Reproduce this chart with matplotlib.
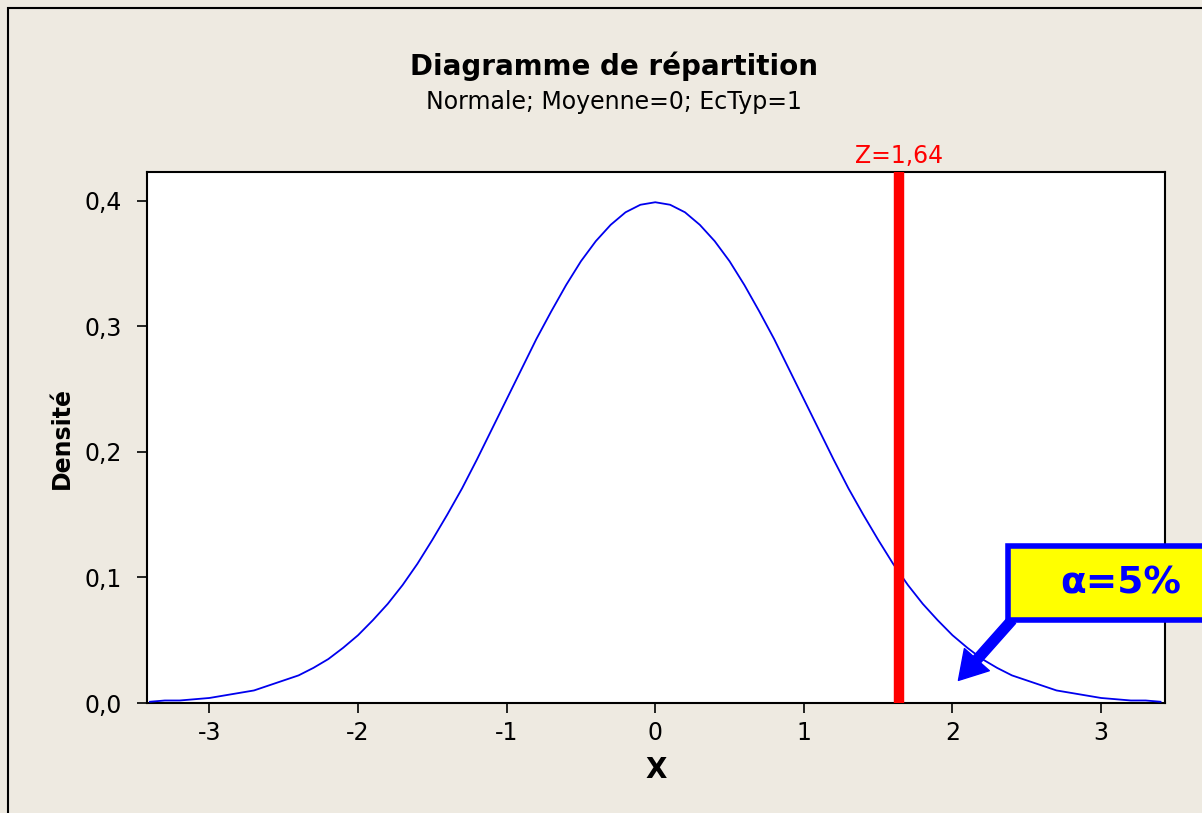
import matplotlib
matplotlib.use("Agg")
import matplotlib.pyplot as plt
from matplotlib.patches import Rectangle

# density
x_vals = [-3.4, -3.3, -3.2, -3.1, -3.0, -2.9, -2.8, -2.7, -2.6, -2.5, -2.4, -2.3,
          -2.2, -2.1, -2.0, -1.9, -1.8, -1.7, -1.6, -1.5, -1.4, -1.3, -1.2, -1.1,
          -1.0, -0.9, -0.8, -0.7, -0.6, -0.5, -0.4, -0.3, -0.2, -0.1, 0.0,
          0.1, 0.2, 0.3, 0.4, 0.5, 0.6, 0.7, 0.8, 0.9, 1.0, 1.1, 1.2, 1.3, 1.4,
          1.5, 1.6, 1.7, 1.8, 1.9, 2.0, 2.1, 2.2, 2.3, 2.4, 2.5, 2.6, 2.7, 2.8,
          2.9, 3.0, 3.1, 3.2, 3.3, 3.4]
density = [0.001, 0.002, 0.002, 0.003, 0.004, 0.006, 0.008, 0.010, 0.014, 0.018,
           0.022, 0.028, 0.035, 0.044, 0.054, 0.066, 0.079, 0.094, 0.111, 0.130,
           0.150, 0.171, 0.194, 0.218, 0.242, 0.266, 0.290, 0.312, 0.333, 0.352,
           0.368, 0.381, 0.391, 0.397, 0.399,
           0.397, 0.391, 0.381, 0.368, 0.352, 0.333, 0.312, 0.290, 0.266, 0.242,
           0.218, 0.194, 0.171, 0.150, 0.130, 0.111, 0.094, 0.079, 0.066, 0.054,
           0.044, 0.035, 0.028, 0.022, 0.018, 0.014, 0.010, 0.008, 0.006, 0.004,
           0.003, 0.002, 0.002, 0.001]

z_crit = 1.64
z_label = "Z=1,64"
alpha_label = "α=5%"
x_ticks = [-3, -2, -1, 0, 1, 2, 3]
y_ticks = [0.0, 0.1, 0.2, 0.3, 0.4]
y_tick_labels = ["0,0", "0,1", "0,2", "0,3", "0,4"]

bg = "#EEEAE1"
fig = plt.figure(figsize=(12.02, 8.13), dpi=100, facecolor=bg)
# outer frame (only top/left visible)
fig.patches.append(Rectangle((8 / 1202, -0.05), 1.2, 0.99 + 0.05, transform=fig.transFigure,
                             fill=False, edgecolor="black", lw=1.5, zorder=0))

ax = fig.add_axes([147 / 1202, 1 - 703 / 813, (1165 - 147) / 1202, (703 - 172) / 813])
ax.set_facecolor("white")
ax.plot(x_vals, density, color="#0000EE", lw=1.3, zorder=3)
ax.axvline(z_crit, color="#FF0000", lw=7.5, zorder=4)
ax.text(z_crit, 0.4231 + 0.003, z_label, color="#FF0000", fontsize=17,
        ha="center", va="bottom")

ax.set_xlim(-3.42, 3.43)
ax.set_ylim(0, 0.4231)
ax.set_xticks(x_ticks)
ax.set_xticklabels([str(t) for t in x_ticks])
ax.set_yticks(y_ticks)
ax.set_yticklabels(y_tick_labels)
ax.tick_params(labelsize=17, length=7, width=1.2, direction="out")
ax.tick_params(axis="x", pad=6)
ax.tick_params(axis="y", pad=11)
for s in ax.spines.values():
    s.set_linewidth(1.5)
ax.set_xlabel("X", fontsize=20, fontweight="bold", labelpad=8)
ax.set_ylabel("Densité", fontsize=17, fontweight="bold")
ax.yaxis.set_label_coords(-0.072, 0.5)

fig.text(0.511, 1 - 66 / 813, "Diagramme de répartition", ha="center", va="center",
         fontsize=20, fontweight="bold")
fig.text(0.511, 1 - 102 / 813, "Normale; Moyenne=0; EcTyp=1", ha="center", va="center",
         fontsize=17)

# alpha callout box
fig.patches.append(Rectangle((1008 / 1202, 1 - 620 / 813), 0.2, 74 / 813,
                             transform=fig.transFigure, facecolor="#FFFF00",
                             edgecolor="#0000FF", lw=4, zorder=5))
fig.text(1121 / 1202, 1 - 583 / 813, alpha_label, ha="center", va="center",
         fontsize=27, fontweight="bold", color="#0000FF", zorder=6)
ax.annotate("", xy=(2.04, 0.018), xytext=(2.40, 0.066),
            arrowprops=dict(width=7, headwidth=24, headlength=20, color="#0000FF"),
            annotation_clip=False, zorder=6)

fig.savefig("out.png", dpi=100, facecolor=bg)
